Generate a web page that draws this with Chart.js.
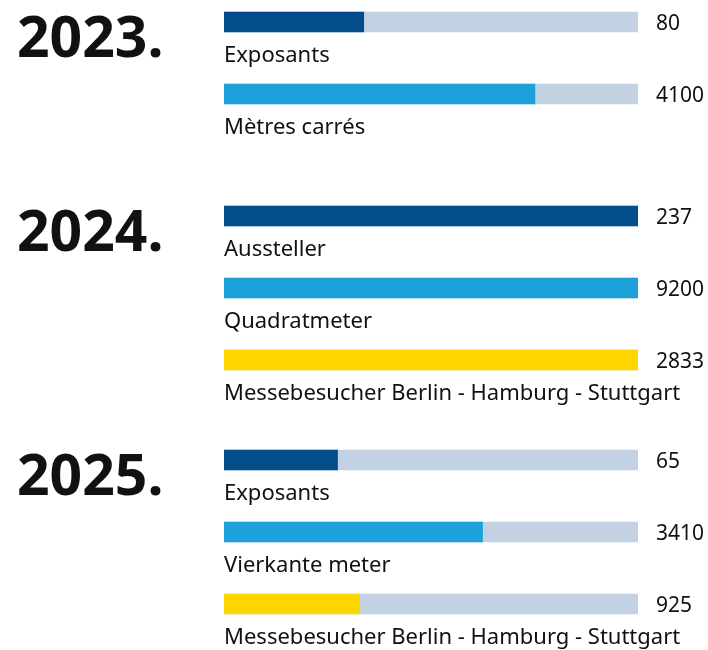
<!DOCTYPE html>
<html>
<head>
<meta charset="utf-8">
<script src="https://cdn.jsdelivr.net/npm/chart.js@4/dist/chart.umd.min.js"></script>
<style>
  html, body { margin: 0; padding: 0; background: #fff; width: 708px; height: 650px; overflow: hidden; position: relative; }
  canvas { position: absolute; left: 0; }
</style>
</head>
<body>
<canvas id="c2023"></canvas>
<canvas id="c2024"></canvas>
<canvas id="c2025"></canvas>
<script>
/* Trade fair key figures: one small horizontal bar chart per year. */

// ---------- data ----------
const years = ["2023.", "2024.", "2025."];

const labels2023 = ["Exposants", "Mètres carrés"];
const values2023 = [80, 4100];
const trackMax2023 = [237, 5460];

const labels2024 = ["Aussteller", "Quadratmeter", "Messebesucher Berlin - Hamburg - Stuttgart"];
const values2024 = [237, 9200, 2833];
const trackMax2024 = [237, 9200, 2833];

const labels2025 = ["Exposants", "Vierkante meter", "Messebesucher Berlin - Hamburg - Stuttgart"];
const values2025 = [65, 3410, 925];
const trackMax2025 = [237, 5460, 2833];

// ---------- style ----------
const ROW = 72;             // vertical step between bars
const rowColors = ["#034d8a", "#1da1db", "#ffd500"];  // exhibitors, area, visitors
const TRACK = "#c2d2e3";
const INK = "#111";
const FONT = "'Noto Sans', sans-serif";

const $ = (id) => document.getElementById(id);

/* draws year, caption under each bar and the figure to its right */
const rowText = {
  id: "rowText",
  afterDatasetsDraw(chart, args, opts) {
    const { ctx, chartArea } = chart;
    const bars = chart.getDatasetMeta(1).data;
    ctx.save();
    ctx.fillStyle = INK;
    ctx.textBaseline = "alphabetic";
    ctx.textAlign = "left";
    ctx.font = `bold 57px ${FONT}`;
    ctx.fillText(opts.year, 17, bars[0].y + 35);
    bars.forEach((b, i) => {
      ctx.font = `22px ${FONT}`;
      ctx.fillText(opts.labels[i], chartArea.left, b.y + 40);
      ctx.font = `21px ${FONT}`;
      ctx.fillText(String(opts.values[i]), 656, b.y + 8);
    });
    ctx.restore();
  },
};

function drawYear(id, year, labels, values, trackMax, firstCenter) {
  const cv = $(id);
  const padBottom = 30;
  cv.width = 708;
  cv.height = ROW * labels.length + padBottom;
  cv.style.top = (firstCenter - ROW / 2) + "px";

  const share = values.map((v, i) => Math.min(1, v / trackMax[i]));
  new Chart(cv.getContext("2d"), {
    type: "bar",
    data: {
      labels,
      datasets: [
        { data: labels.map(() => 1), backgroundColor: TRACK, order: 2 },
        { data: share, backgroundColor: rowColors.slice(0, labels.length), order: 1 },
      ],
    },
    options: {
      indexAxis: "y",
      responsive: false,
      animation: false,
      events: [],
      layout: { padding: { left: 224, right: 70, top: 0, bottom: padBottom } },
      datasets: { bar: { grouped: false, barThickness: 20, borderWidth: 0 } },
      scales: {
        x: { display: false, min: 0, max: 1 },
        y: { display: false },
      },
      plugins: {
        legend: { display: false },
        tooltip: { enabled: false },
        rowText: { year, labels, values },
      },
    },
    plugins: [rowText],
  });
}

drawYear("c2023", years[0], labels2023, values2023, trackMax2023, 22);
drawYear("c2024", years[1], labels2024, values2024, trackMax2024, 216);
drawYear("c2025", years[2], labels2025, values2025, trackMax2025, 460);
</script>
</body>
</html>
